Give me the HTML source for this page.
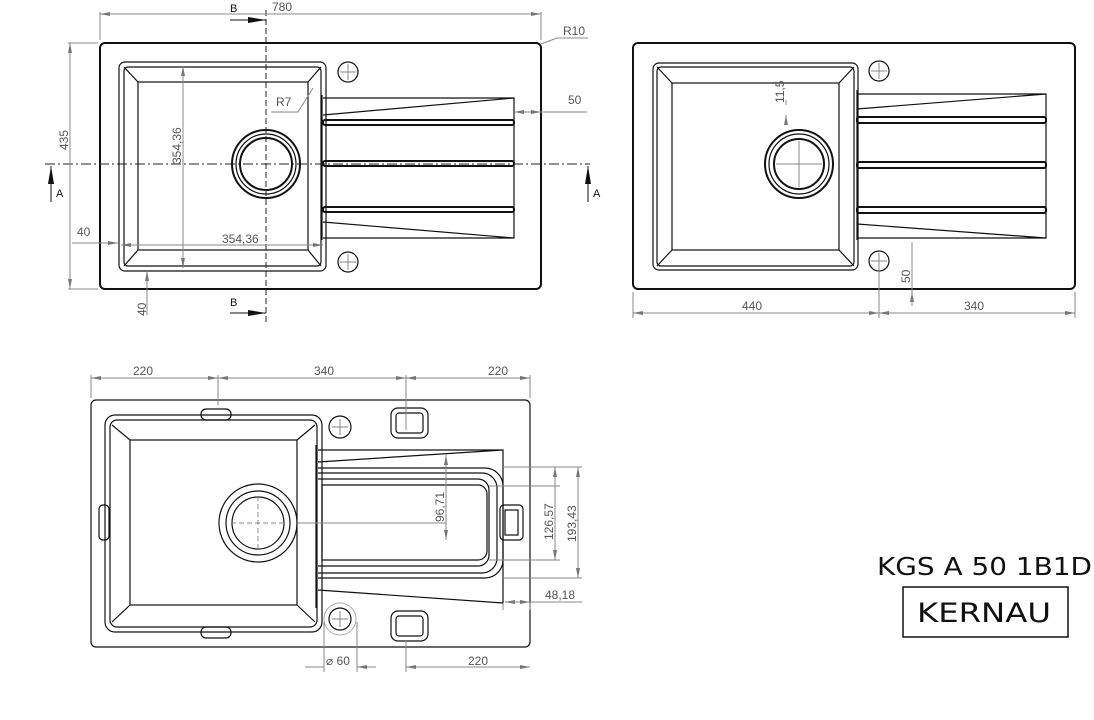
<!DOCTYPE html>
<html><head><meta charset="utf-8"><style>
html,body{margin:0;padding:0;background:#fff;}
svg{display:block;}
text{font-family:"Liberation Sans",sans-serif;}
.d{stroke:#888;stroke-width:1;fill:none}
.t{fill:#555;font-size:12px}
.k{stroke:#111;stroke-width:1.2;fill:none}
.kb{stroke:#111;stroke-width:2;fill:none}
.c{stroke:#222;stroke-width:1;fill:none;stroke-dasharray:10 3 2 3}
</style></head><body>
<svg width="1094" height="720" viewBox="0 0 1094 720" xmlns="http://www.w3.org/2000/svg">
<defs>
<marker id="a" markerWidth="10" markerHeight="6" refX="10" refY="3" orient="auto-start-reverse"><path d="M0,1 L10,3 L0,5 Z" fill="#777"/></marker>
</defs>

<!-- ===== VIEW 1 ===== -->
<rect x="100" y="43" width="441" height="246" rx="5" class="kb"/>
<rect x="119" y="62" width="207" height="209" rx="6" class="k"/>
<rect x="124" y="67" width="197" height="199" rx="4" class="k"/>
<rect x="138" y="82" width="170" height="168" class="k"/>
<path d="M124,67 L138,82 M321,67 L308,82 M124,266 L138,250 M321,266 L308,250" class="k"/>
<circle cx="266" cy="164" r="34" class="kb"/>
<circle cx="266" cy="164" r="30" class="k"/>
<circle cx="266" cy="164" r="26" class="kb"/>
<circle cx="348" cy="72" r="10" class="k"/>
<circle cx="348" cy="262" r="10" class="k"/>
<path d="M340,72h16M348,64v16M340,262h16M348,254v16" class="d"/>
<path d="M323,98 L514,98 L514,238 L323,238 M323,115 L514,98 M323,222 L514,238" class="k" fill="none"/>
<rect x="323" y="120" width="191" height="5" rx="2" class="kb"/>
<rect x="323" y="161" width="191" height="5" rx="2" class="kb"/>
<rect x="323" y="207" width="191" height="5" rx="2" class="kb"/>
<line x1="322" y1="95" x2="322" y2="240" class="k"/>
<!-- centerlines -->
<line x1="266" y1="10" x2="266" y2="322" class="c" style="stroke-dasharray:6 3"/>
<line x1="45" y1="164" x2="590" y2="164" class="c"/>
<!-- section markers -->
<text x="230" y="12" font-size="11" fill="#111">B</text>
<path d="M230,20 H266" stroke="#111"/><path d="M248,17 L266,20 L248,23Z" fill="#111"/>
<text x="230" y="306" font-size="11" fill="#111">B</text>
<path d="M230,313 H266" stroke="#111"/><path d="M248,310 L266,313 L248,316Z" fill="#111"/>
<path d="M51,202 V166" stroke="#111"/><path d="M48,184 L51,166 L54,184Z" fill="#111"/>
<text x="56" y="197" font-size="11" fill="#111">A</text>
<path d="M588,202 V166" stroke="#111"/><path d="M585,184 L588,166 L591,184Z" fill="#111"/>
<text x="593" y="197" font-size="11" fill="#111">A</text>
<!-- dims -->
<line x1="100" y1="14" x2="541" y2="14" class="d" marker-start="url(#a)" marker-end="url(#a)"/>
<line x1="100" y1="12" x2="100" y2="40" class="d"/><line x1="541" y1="12" x2="541" y2="40" class="d"/>
<text x="272" y="11" class="t">780</text>
<path d="M541,44 L557,38 H588" class="d"/><text x="563" y="35" class="t">R10</text>
<line x1="70" y1="43" x2="70" y2="289" class="d" marker-start="url(#a)" marker-end="url(#a)"/>
<line x1="68" y1="43" x2="98" y2="43" class="d"/><line x1="68" y1="289" x2="98" y2="289" class="d"/>
<text class="t" transform="translate(68,150) rotate(-90)">435</text>
<line x1="183" y1="66" x2="183" y2="268" class="d" marker-start="url(#a)" marker-end="url(#a)"/>
<text class="t" transform="translate(181,164) rotate(-90)">354,36</text>
<line x1="121" y1="245" x2="323" y2="245" class="d" marker-start="url(#a)" marker-end="url(#a)"/>
<text x="222" y="243" class="t">354,36</text>
<path d="M72,243 H118" class="d" marker-end="url(#a)"/><text x="77" y="236" class="t">40</text>
<path d="M147,315 V271" class="d" marker-end="url(#a)"/><text class="t" transform="translate(146,316) rotate(-90)">40</text>
<path d="M271,112 H298 L313,88" class="d"/><text x="276" y="106" class="t">R7</text>
<path d="M514,112 H587" class="d"/><line x1="514" y1="112" x2="541" y2="112" class="d" marker-start="url(#a)" marker-end="url(#a)"/>
<text x="568" y="104" class="t">50</text>

<!-- ===== VIEW 2 ===== -->
<rect x="633" y="43" width="442" height="246" rx="5" class="kb"/>
<rect x="653" y="63" width="205" height="207" rx="6" class="k"/>
<rect x="657" y="67" width="197" height="199" rx="4" class="k"/>
<rect x="672" y="83" width="167" height="167" class="k"/>
<path d="M657,67 L672,83 M854,67 L839,83 M657,266 L672,250 M854,266 L839,250" class="k"/>
<circle cx="799" cy="164" r="34" class="kb"/>
<circle cx="799" cy="164" r="30" class="k"/>
<circle cx="799" cy="164" r="25" class="kb"/>
<path d="M776,164h46M799,141v46M871,71h16M879,63v16M871,261h16M879,253v16" class="d"/>
<circle cx="879" cy="71" r="10" class="k"/>
<circle cx="879" cy="261" r="10" class="k"/>
<path d="M857,94 L1046,94 L1046,238 L857,238 M857,109 L1046,94 M857,224 L1046,238" class="k"/>
<rect x="857" y="117" width="189" height="6" rx="2" class="kb"/>
<rect x="857" y="162" width="189" height="6" rx="2" class="kb"/>
<rect x="857" y="207" width="189" height="6" rx="2" class="kb"/>
<line x1="857" y1="90" x2="857" y2="240" class="k"/>
<line x1="633" y1="313" x2="879" y2="313" class="d" marker-start="url(#a)" marker-end="url(#a)"/>
<line x1="879" y1="313" x2="1075" y2="313" class="d" marker-start="url(#a)" marker-end="url(#a)"/>
<line x1="633" y1="292" x2="633" y2="318" class="d"/><line x1="879" y1="265" x2="879" y2="318" class="d"/><line x1="1075" y1="292" x2="1075" y2="318" class="d"/>
<text x="742" y="310" class="t">440</text><text x="964" y="310" class="t">340</text>
<line x1="912" y1="242" x2="912" y2="306" class="d"/>
<path d="M912,248 V259 M912,302 V292" class="d" marker-end="url(#a)"/>
<text class="t" transform="translate(910,283) rotate(-90)">50</text>
<path d="M786,100 V105 M786,125 V115" class="d" marker-end="url(#a)"/>
<text class="t" transform="translate(784,103) rotate(-90)">11,5</text>

<!-- ===== VIEW 3 ===== -->
<rect x="91" y="400" width="439" height="247" rx="5" class="k"/>
<rect x="105" y="415" width="217" height="217" rx="10" class="k"/>
<rect x="110" y="420" width="207" height="207" rx="7" class="k"/>
<rect x="130" y="440" width="167" height="165" class="k"/>
<path d="M112,425 L130,440 M315,425 L297,440 M112,622 L130,605 M315,622 L297,605" class="k"/>
<circle cx="258" cy="523" r="39" class="k"/>
<circle cx="258" cy="523" r="32" class="k"/>
<circle cx="258" cy="523" r="26" class="k"/>
<path d="M231,523h55M258,496v55" class="d" style="stroke-dasharray:5 3"/>
<rect x="201" y="409" width="30" height="11" rx="5" class="k"/>
<rect x="201" y="627" width="30" height="11" rx="5" class="k"/>
<rect x="99" y="505" width="10" height="35" rx="4" class="k"/>
<rect x="391" y="408" width="37" height="30" rx="7" class="k"/><rect x="396" y="413" width="27" height="20" rx="3" class="k"/>
<rect x="391" y="611" width="37" height="30" rx="7" class="k"/><rect x="396" y="616" width="27" height="20" rx="3" class="k"/>
<circle cx="340" cy="427" r="11" class="k"/><circle cx="340" cy="619" r="11" class="k"/>
<circle cx="340" cy="619" r="16" stroke="#aaa" fill="none"/>
<path d="M332,427h16M340,419v16M332,619h16M340,611v16" class="d"/>
<path d="M318,450 L503,450 L503,603 M318,462 L503,450 M318,590 L503,603" class="k"/>
<path d="M318,468 H485 a18,18 0 0 1 18,18 V560 a18,18 0 0 1 -18,18 H318" class="k"/>
<path d="M318,473 H482 a15,15 0 0 1 15,15 V558 a15,15 0 0 1 -15,15 H318" class="k"/>
<path d="M318,479 H478 a11,11 0 0 1 11,11 V555 a11,11 0 0 1 -11,11 H318" class="k"/>
<path d="M322,485 H478 a9,9 0 0 1 9,9 V551 a9,9 0 0 1 -9,9 H322 Z" class="k"/>
<rect x="500" y="505" width="23" height="35" rx="4" class="k"/><rect x="505" y="510" width="13" height="25" class="k"/>
<line x1="316" y1="445" x2="316" y2="608" class="k"/>
<path d="M297,523 H446" class="d"/>
<!-- view3 dims -->
<line x1="91" y1="378" x2="218" y2="378" class="d" marker-start="url(#a)" marker-end="url(#a)"/>
<line x1="218" y1="378" x2="406" y2="378" class="d" marker-start="url(#a)" marker-end="url(#a)"/>
<line x1="406" y1="378" x2="530" y2="378" class="d" marker-start="url(#a)" marker-end="url(#a)"/>
<path d="M91,375V398M218,375V405M406,375V430M530,375V398" class="d"/>
<text x="133" y="375" class="t">220</text><text x="314" y="375" class="t">340</text><text x="488" y="375" class="t">220</text>
<line x1="446" y1="455" x2="446" y2="540" class="d" marker-start="url(#a)" marker-end="url(#a)"/>
<text class="t" transform="translate(444,522) rotate(-90)">96,71</text>
<path d="M489,486 H560 M489,560 H560 M503,467 H582 M503,578 H582" class="d"/>
<line x1="555" y1="467" x2="555" y2="560" class="d" marker-start="url(#a)" marker-end="url(#a)"/>
<text class="t" transform="translate(553,540) rotate(-90)">126,57</text>
<line x1="578" y1="467" x2="578" y2="578" class="d" marker-start="url(#a)" marker-end="url(#a)"/>
<text class="t" transform="translate(576,542) rotate(-90)">193,43</text>
<path d="M503,603 V610 M530,603 V610" class="d"/>
<line x1="505" y1="602" x2="530" y2="602" class="d" marker-start="url(#a)" marker-end="url(#a)"/>
<path d="M530,602 H582" class="d"/><text x="545" y="599" class="t">48,18</text>
<path d="M324,622 V672 M357,622 V672" class="d"/>
<path d="M305,667 H324 M376,667 H357" class="d" marker-end="url(#a)"/>
<text x="326" y="665" class="t">⌀ 60</text>
<path d="M406,640 V672" class="d"/>
<line x1="406" y1="667" x2="530" y2="667" class="d" marker-start="url(#a)" marker-end="url(#a)"/>
<text x="468" y="665" class="t">220</text>

<!-- title -->
<text x="877" y="575" font-size="25" fill="#111" style="font-family:'DejaVu Sans','Liberation Sans',sans-serif" textLength="215" lengthAdjust="spacingAndGlyphs">KGS A 50 1B1D</text>
<rect x="903" y="587" width="165" height="50" fill="none" stroke="#111" stroke-width="1.5"/>
<text x="917" y="622" font-size="27" fill="#111" textLength="134" lengthAdjust="spacingAndGlyphs" style="font-family:'DejaVu Sans','Liberation Sans',sans-serif">KERNAU</text>
</svg>
</body></html>
